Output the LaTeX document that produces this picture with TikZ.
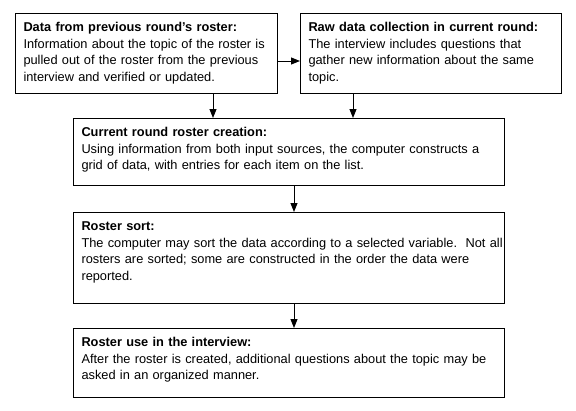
\documentclass[tikz,border=0pt]{standalone}
\usepackage{fontspec}
\setmainfont{Liberation Sans}
\usepackage{tikz}
\usetikzlibrary{arrows.meta, positioning, calc, }
\frenchspacing
\hyphenpenalty=10000

\tikzset{
    rosterbox/.style={draw, black, line width=1pt, anchor=north west, align=left,
        inner xsep=8pt, inner ysep=0pt, text height=18pt,
        font=\fontsize{12.8}{16.5}\selectfont},
    flow/.style={-{Triangle[length=9pt, width=7pt]}, black, line width=1pt},
}

\begin{document}
\begin{tikzpicture}[x=1pt, y=-1pt]
    \useasboundingbox (0, 0) rectangle (576, 410);

    % caixas de cima
    \node[rosterbox, text width=246pt, text depth=62pt] (prevdata) at (15, 13) {%
        \textbf{Data from previous round’s roster:}\\
        Information about the topic of the roster is\\
        pulled out of the roster from the previous\\
        interview and verified or updated.};
    \node[rosterbox, text width=245pt, text depth=62pt] (rawdata) at (300, 13) {%
        \textbf{Raw data collection in current round:}\\
        The interview includes questions that\\
        gather new information about the same\\
        topic.};

    % caixas do meio e de baixo
    \node[rosterbox, text width=415pt, text depth=49pt] (creation) at (73, 118) {%
        \textbf{Current round roster creation:}\\
        Using information from both input sources, the computer constructs a\\
        grid of data, with entries for each item on the list.};
    \node[rosterbox, text width=415pt, text depth=73pt] (sortstep) at (73, 212) {%
        \textbf{Roster sort:}\\
        \mbox{The computer may sort the data according to a selected variable.~ Not all}\\
        rosters are sorted; some are constructed in the order the data were\\
        reported.};
    \node[rosterbox, text width=415pt, text depth=51pt] (usestep) at (73, 328) {%
        \textbf{Roster use in the interview:}\\
        After the roster is created, additional questions about the topic may be\\
        asked in an organized manner.};

    % setas
    \coordinate (hy) at (0, 61);
    \coordinate (d1) at (213, 0);
    \coordinate (d2) at (353, 0);
    \coordinate (d3) at (294, 0);
    \draw[flow] (prevdata.east |- hy) -- (rawdata.west |- hy);
    \draw[flow] (prevdata.south -| d1) -- (creation.north -| d1);
    \draw[flow] (rawdata.south -| d2) -- (creation.north -| d2);
    \draw[flow] (creation.south -| d3) -- (sortstep.north -| d3);
    \draw[flow] (sortstep.south -| d3) -- (usestep.north -| d3);

\end{tikzpicture}
\end{document}
